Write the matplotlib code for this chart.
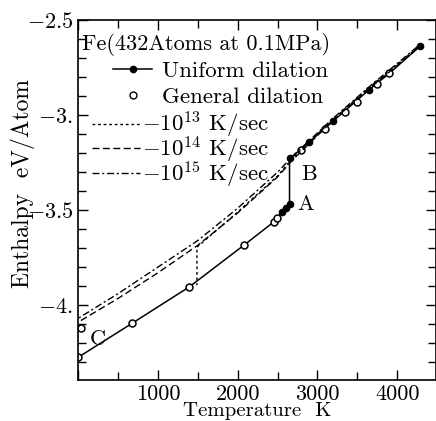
import matplotlib
matplotlib.use("Agg")
import matplotlib.pyplot as plt
from matplotlib.lines import Line2D
from matplotlib.ticker import MultipleLocator, FuncFormatter

plt.rcParams["font.family"] = ["cmr10", "DejaVu Serif"]
plt.rcParams["mathtext.fontset"] = "cm"
plt.rcParams["axes.unicode_minus"] = False

# uniform dilation (solid line): crystal branch, jump A->B, liquid branch
line_T = [0, 680, 1390, 2080, 2450, 2560, 2600, 2650, 2650, 2900, 3200, 3650, 3900, 4290]
line_H = [-4.275, -4.095, -3.905, -3.684, -3.563, -3.51, -3.49, -3.47,
          -3.23, -3.14, -3.03, -2.865, -2.78, -2.635]

uniform_T = [2560, 2600, 2650, 2660, 2900, 3200, 3650, 4290]
uniform_H = [-3.51, -3.49, -3.47, -3.225, -3.14, -3.03, -2.865, -2.635]

general_T = [0, 40, 680, 1390, 2080, 2450, 2490, 2800, 3100, 3350, 3500, 3750, 3900]
general_H = [-4.275, -4.12, -4.095, -3.905, -3.684, -3.563, -3.54,
             -3.185, -3.075, -2.985, -2.93, -2.835, -2.78]

# cooling runs
rate13_T = [4250, 3650, 3200, 2690, 2500, 2000, 1490, 1490]
rate13_H = [-2.645, -2.855, -3.02, -3.225, -3.32, -3.51, -3.695, -3.895]
rate14_T = [4250, 3650, 3200, 2690, 2500, 2000, 1500, 1000, 500, 0]
rate14_H = [-2.650, -2.860, -3.025, -3.235, -3.325, -3.515, -3.685, -3.83, -3.965, -4.09]
rate15_T = [4250, 3650, 3200, 2690, 2500, 2000, 1500, 1000, 500, 0]
rate15_H = [-2.640, -2.850, -3.015, -3.215, -3.30, -3.49, -3.66, -3.80, -3.94, -4.07]

fig = plt.figure(figsize=(4.36, 4.21), dpi=100)
ax = fig.add_axes([0.179, 0.097, 0.82, 0.855])

ax.plot(line_T, line_H, color="black", lw=1.1)
ax.plot(uniform_T, uniform_H, "o", ms=4.5, mfc="black", mec="black", ls="none")
ax.plot(general_T, general_H, "o", ms=5, mfc="white", mec="black", mew=1.1, ls="none")
ax.plot(rate13_T, rate13_H, color="black", lw=1.0, ls=(0, (2, 2)))
ax.plot(rate14_T, rate14_H, color="black", lw=1.0, ls=(0, (5, 2.5)))
ax.plot(rate15_T, rate15_H, color="black", lw=1.0, ls=(0, (5, 2, 1.5, 2)))

ax.text(2750, -3.47, "A", fontsize=16, va="center")
ax.text(2800, -3.31, "B", fontsize=16, va="center")
ax.text(150, -4.18, "C", fontsize=16, va="center")

ax.set_xlim(0, 4480)
ax.set_ylim(-4.395, -2.5)
ax.xaxis.set_major_locator(MultipleLocator(1000))
ax.xaxis.set_minor_locator(MultipleLocator(500))
ax.yaxis.set_major_locator(MultipleLocator(0.5))
ax.yaxis.set_minor_locator(MultipleLocator(0.1))

def xfmt(v, pos):
    return "" if v <= 0 else "%d" % v

def yfmt(v, pos):
    s = "%.1f" % v
    if s.endswith(".0"):
        s = s[:-1]
    return "$" + s + "$"

ax.xaxis.set_major_formatter(FuncFormatter(xfmt))
ax.yaxis.set_major_formatter(FuncFormatter(yfmt))
ax.tick_params(which="both", direction="in", top=True, right=True, labelsize=16)
ax.tick_params(axis="x", pad=3)
ax.tick_params(which="major", length=7, width=1)
ax.tick_params(which="minor", length=6, width=1)
for s in ax.spines.values():
    s.set_linewidth(1.2)

ax.set_xlabel("Temperature  K", fontsize=15, labelpad=-1)
ax.set_ylabel("Enthalpy  eV/Atom", fontsize=17)
ax.yaxis.set_label_coords(-0.12, 0.547)

ax.text(0.012, 0.933, "Fe(432Atoms at 0.1MPa)", transform=ax.transAxes,
        fontsize=16, va="center", ha="left")

h1 = [Line2D([], [], color="black", lw=1.1, marker="o", ms=4.5),
      Line2D([], [], color="black", ls="none", marker="o", ms=5, mfc="white")]
leg1 = ax.legend(h1, ["Uniform dilation", "General dilation"], loc="upper left",
                 bbox_to_anchor=(0.098, 0.888), frameon=False, fontsize=16.5,
                 handlelength=1.7, handletextpad=0.44, borderpad=0, borderaxespad=0,
                 labelspacing=0.3)
ax.add_artist(leg1)

h2 = [Line2D([], [], color="black", lw=1.0, ls=(0, (2, 2))),
      Line2D([], [], color="black", lw=1.0, ls=(0, (5, 2.5))),
      Line2D([], [], color="black", lw=1.0, ls=(0, (5, 2, 1.5, 2)))]
ax.legend(h2, [r"$-10^{13}$ K/sec", r"$-10^{14}$ K/sec", r"$-10^{15}$ K/sec"],
          loc="upper left", bbox_to_anchor=(0.039, 0.75), frameon=False, fontsize=16.5,
          handlelength=2.1, handletextpad=0.1, borderpad=0, borderaxespad=0,
          labelspacing=-0.26)

fig.savefig("out.png", dpi=100)
